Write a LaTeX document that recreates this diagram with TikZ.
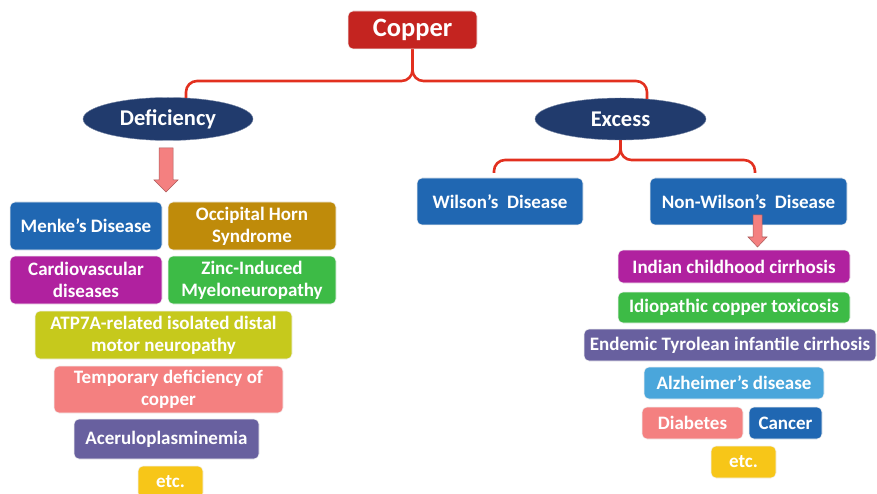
\documentclass[tikz,border=0pt]{standalone}
\usepackage{fontspec}
\setmainfont{Carlito}
\usetikzlibrary{shapes.geometric}
\definecolor{cured}{HTML}{C42420}
\definecolor{navy}{HTML}{213B6D}
\definecolor{brred}{HTML}{E2301F}
\definecolor{cblue}{HTML}{2067B2}
\definecolor{cgold}{HTML}{BF8B0A}
\definecolor{cmag}{HTML}{B0219F}
\definecolor{cgreen}{HTML}{3DBB46}
\definecolor{colive}{HTML}{C6C91C}
\definecolor{cpink}{HTML}{F48080}
\definecolor{cpurple}{HTML}{68609F}
\definecolor{cyellow}{HTML}{F7C618}
\definecolor{clight}{HTML}{4AA6DB}
\begin{document}
\begin{tikzpicture}[x=1pt,y=-1pt,
  box/.style={draw=white!75!black!20, line width=0.6pt, rounded corners=5pt, text=white,
    font=\fontsize{19}{22}\selectfont\bfseries, align=center, inner sep=0pt},
  oval/.style={ellipse, draw=navy!60, fill=navy, text=white, inner sep=0pt,
    font=\fontsize{22.5}{24}\selectfont\bfseries},
  br/.style={draw=brred, line width=2.6pt, rounded corners=11pt},
  parrow/.style={fill=cpink, draw=cpink!70!black, line width=0.5pt, line join=miter}]
\useasboundingbox (0,0) rectangle (877,494);
% top
\node[box, fill=cured, minimum width=129, minimum height=38, font=\fontsize{26.5}{28}\selectfont\bfseries] (cu) at (412.5,30) {Copper};
\node[oval, minimum width=170, minimum height=43] (def) at (168,119) {Deficiency};
\node[oval, minimum width=171, minimum height=42] (exc) at (620.5,119) {Excess};
\coordinate (dtop) at (186,98);
\coordinate (etop) at (647,99);
\draw[br] (cu.south) -- (cu.south |- 0,81) -| (dtop);
\draw[br] (cu.south) -- (cu.south |- 0,81) -| (etop);
% left side
\filldraw[parrow] (159,148) -- (173,148) -- (173,180) -- (178,180) -- (166,192) -- (154,180) -- (159,180) -- cycle;
\node[box, fill=cblue, minimum width=152, minimum height=48] (menke) at (86,226) {Menke’s Disease};
\node[box, fill=cgold, minimum width=168, minimum height=48] (occ) at (252,226) {Occipital Horn\\Syndrome};
\node[box, fill=cmag, minimum width=152, minimum height=48] (card) at (86,280) {Cardiovascular\\diseases};
\node[box, fill=cgreen, minimum width=168, minimum height=48] (zinc) at (252,280) {Zinc-Induced\\Myeloneuropathy};
\node[box, fill=colive, minimum width=257, minimum height=48] (atp) at (163.5,335) {ATP7A-related isolated distal\\motor neuropathy};
\node[box, fill=cpink, minimum width=229, minimum height=47] (temp) at (168.5,389.5) {Temporary deficiency of\\copper};
\node[box, fill=cpurple, minimum width=185, minimum height=40] (acer) at (166.5,439) {Aceruloplasminemia};
\node[box, fill=cyellow, minimum width=65, minimum height=32] (etcl) at (170.5,482) {etc.};
% right side
\node[box, fill=cblue, minimum width=166, minimum height=47] (wil) at (500,201.5) {Wilson’s\ \ Disease};
\node[box, fill=cblue, minimum width=197, minimum height=47] (nonw) at (748.5,201.5) {Non-Wilson’s\ \ Disease};
\coordinate (wtop) at (494,173);
\coordinate (ntop) at (755,173);
\draw[br] (exc.south) -- (exc.south |- 0,160) -| (wtop);
\draw[br] (exc.south) -- (exc.south |- 0,160) -| (ntop);
\filldraw[parrow] (753,215) -- (762,215) -- (762,237) -- (767,237) -- (757.5,247) -- (748,237) -- (753,237) -- cycle;
\node[box, fill=cmag, minimum width=232, minimum height=33] (ind) at (734,266.5) {Indian childhood cirrhosis};
\node[box, fill=cgreen, minimum width=232, minimum height=31] (idio) at (734,307.5) {Idiopathic copper toxicosis};
\node[box, fill=cpurple, minimum width=292, minimum height=32] (endm) at (730,345) {Endemic Tyrolean infantile cirrhosis};
\node[box, fill=clight, minimum width=180, minimum height=32] (alz) at (734,383) {Alzheimer’s disease};
\node[box, fill=cpink, minimum width=101, minimum height=32] (diab) at (692.5,423) {Diabetes};
\node[box, fill=cblue, minimum width=73, minimum height=32] (canc) at (785.5,423) {Cancer};
\node[box, fill=cyellow, minimum width=65, minimum height=32] (etcr) at (743.5,462) {etc.};
\end{tikzpicture}
\end{document}
